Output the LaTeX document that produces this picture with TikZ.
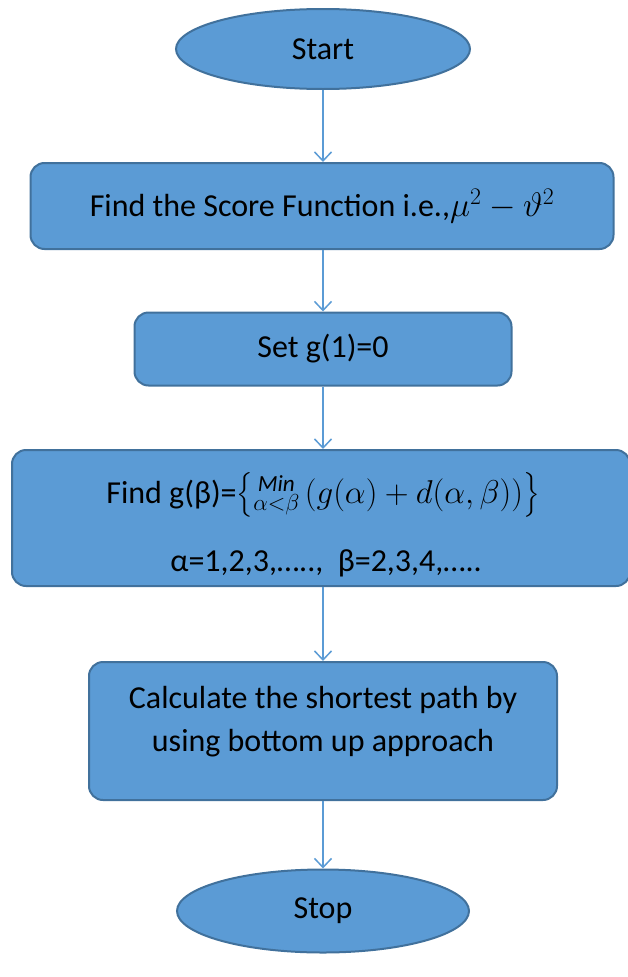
\RequirePackage{fix-cm}
\documentclass[tikz,border=0pt]{standalone}
\usepackage{amsmath}
\usepackage{fontspec}
\setmainfont{Carlito}
\usetikzlibrary{arrows.meta,shapes.geometric}
\definecolor{boxblue}{RGB}{91,155,213}
\definecolor{edgeblue}{RGB}{65,113,156}
\newcommand{\bigmath}[2]{{\fontsize{#1}{#1}\selectfont$#2$}}

\begin{document}
\begin{tikzpicture}[x=1pt,y=-1pt,
  txt/.style={font=\fontsize{32}{43}\selectfont,align=center,inner sep=0pt},
  term/.style={ellipse,draw=edgeblue,fill=boxblue,line width=2pt,inner sep=0pt,txt},
  proc/.style={rectangle,rounded corners=14pt,draw=edgeblue,fill=boxblue,line width=2pt,inner sep=0pt,txt},
  flow/.style={draw=boxblue,line width=1.5pt,-{Straight Barb[length=9pt,width=17pt]}}]
\useasboundingbox (0,0) rectangle (628,977);
% start and stop
\node[term,minimum width=294pt,minimum height=80pt] (start) at (323,49) {Start};
\node[term,minimum width=292pt,minimum height=83pt] (stop) at (323,911) {Stop};
% process boxes
\node[proc,minimum width=583pt,minimum height=86pt] (score) at (322,206) {Find the Score Function i.e.,\bigmath{34}{\mu^2-\vartheta^2}};
\node[proc,minimum width=377pt,minimum height=73pt] (init) at (323,349) {Set g(1)=0};
\node[proc,minimum width=618pt,minimum height=136pt] (recur) at (321,518) {};
\node[txt] (recurtop) at (323,495) {Find g(β)=\bigmath{33}{\left\{\substack{\mathit{Min}\\ \alpha<\beta}\,(g(\alpha)+d(\alpha,\beta))\right\}}};
\node[txt] (recurbot) at (326,563) {α=1,2,3,\dots..,\ \ β=2,3,4,\dots..};
\node[proc,minimum width=468pt,minimum height=138pt] (path) at (323,731) {};
\node[txt] (pathtext) at (323,722) {Calculate the shortest path by\\using bottom up approach};
% connectors
\draw[flow] (start.south) -- (init.north |- score.north);
\draw[flow] (init.north |- score.south) -- (init.north);
\draw[flow] (init.south) -- (init.south |- recur.north);
\draw[flow] (init.south |- recur.south) -- (path.north);
\draw[flow] (path.south) -- (stop.north);
\end{tikzpicture}
\end{document}
